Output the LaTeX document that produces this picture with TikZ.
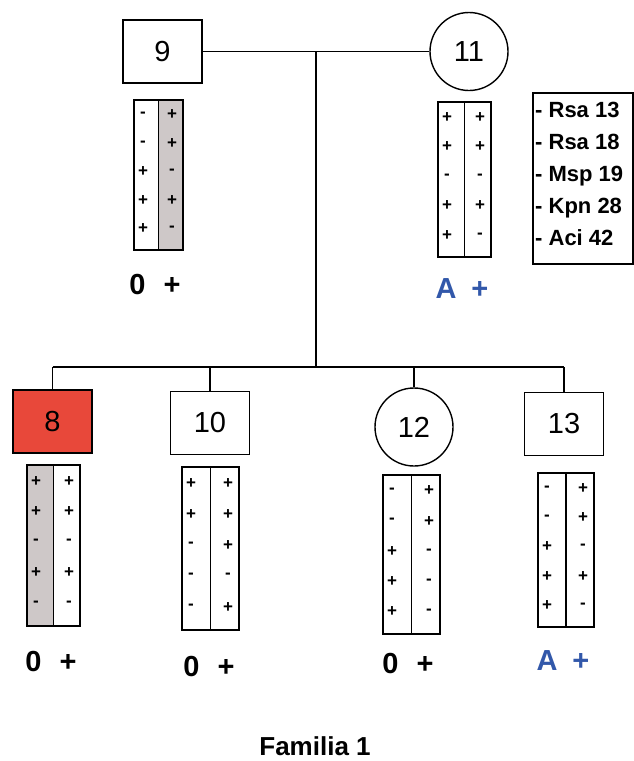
\documentclass[tikz,border=0pt]{standalone}
\usepackage{fontspec}
\setmainfont{Liberation Sans}
\definecolor{redfill}{RGB}{232,72,58}
\definecolor{grayfill}{RGB}{206,200,200}
\definecolor{bloodblue}{RGB}{50,88,170}
\tikzset{
  male/.style={draw, line width=1.4pt, minimum width=79pt, minimum height=63pt, inner sep=0pt, font=\fontsize{29}{29}\selectfont},
  female/.style={draw, circle, line width=1.4pt, minimum size=78pt, inner sep=0pt, font=\fontsize{29}{29}\selectfont},
  link/.style={line width=1.4pt},
  col/.style={draw, line width=1.3pt},
  sign/.style={font=\fontsize{17}{17}\selectfont\bfseries, inner sep=0pt},
  blood/.style={font=\fontsize{29}{29}\selectfont\bfseries, inner sep=0pt},
  legtext/.style={font=\fontsize{22}{22}\selectfont\bfseries, inner sep=0pt, anchor=base west},
}
% #1 xl, #2 xr, #3 yt, #4 yb, #5 left fill, #6 right fill, #7 left signs, #8 right signs, #9 name
\newcommand{\gstrip}[9]{%
  \draw[col, fill=#5] (#1,#3) rectangle ({(#1+#2)/2},#4);
  \draw[col, fill=#6] ({(#1+#2)/2},#3) rectangle (#2,#4);
  \foreach \s [count=\i] in {#7}
    \node[sign] (#9L\i) at ({#1+9},{#3+(#4-#3)*(0.1+0.19*(\i-1))}) {\s};
  \foreach \s [count=\i] in {#8}
    \node[sign] (#9R\i) at ({#2-11},{#3+(#4-#3)*(0.1+0.19*(\i-1))}) {\s};
}
\begin{document}
\begin{tikzpicture}[x=1pt, y=-1pt]
\useasboundingbox[fill=white] (0,0) rectangle (634,761);

% individuals
\node[male] (n9) at (162.5,51.5) {9};
\node[female] (n11) at (469,51.5) {11};
\node[male, fill=redfill] (n8) at (52.5,421.5) {8};
\node[male] (n10) at (210,423) {10};
\node[female] (n12) at (414,427) {12};
\node[male] (n13) at (564,424) {13};

% connectors
\coordinate (mate) at (316,51.5);
\coordinate (sib) at (316,367);
\draw[link] (n9) -- (n11);
\draw[link] (mate) -- (sib);
\draw[link] (n8.north |- sib) -- (n13.north |- sib);
\foreach \c in {n8,n10,n12,n13}
  \draw[link] (\c.north |- sib) -- (\c.north);

% marker strips
\gstrip{134}{183}{100}{250}{white}{grayfill}{-,-,+,+,+}{+,+,-,+,-}{s9}
\gstrip{438}{491}{102}{257}{white}{white}{+,+,-,+,+}{+,+,-,+,-}{s11}
\gstrip{27}{80}{465}{626}{grayfill}{white}{+,+,-,+,-}{+,+,-,+,-}{s8}
\gstrip{182}{239}{467}{630}{white}{white}{+,+,-,-,-}{+,+,+,-,+}{s10}
\gstrip{383}{440}{475}{634}{white}{white}{-,-,+,+,+}{+,+,-,-,-}{s12}
\gstrip{538}{594}{473}{627}{white}{white}{-,-,+,+,+}{+,+,-,+,-}{s13}

% blood groups
\node[blood] (b9) at (155,285) {0\hspace{18pt}+};
\node[blood, text=bloodblue] (b11) at (462,289) {A\hspace{15pt}+};
\node[blood] (b8) at (51,662) {0\hspace{18pt}+};
\node[blood] (b10) at (209,667) {0\hspace{18pt}+};
\node[blood] (b12) at (408,664) {0\hspace{18pt}+};
\node[blood, text=bloodblue] (b13) at (563,661) {A\hspace{15pt}+};

% legend
\draw[line width=1.3pt] (533,93) rectangle (633,264);
\node[legtext] (leg1) at (535,117.5) {- Rsa 13};
\node[legtext] (leg2) at (535,149.5) {- Rsa 18};
\node[legtext] (leg3) at (535,181.5) {- Msp 19};
\node[legtext] (leg4) at (535,213.5) {- Kpn 28};
\node[legtext] (leg5) at (535,245.5) {- Aci 42};

% caption
\node[font=\fontsize{26}{26}\selectfont\bfseries, inner sep=0pt] (cap) at (315,746) {Familia 1};
\end{tikzpicture}
\end{document}
